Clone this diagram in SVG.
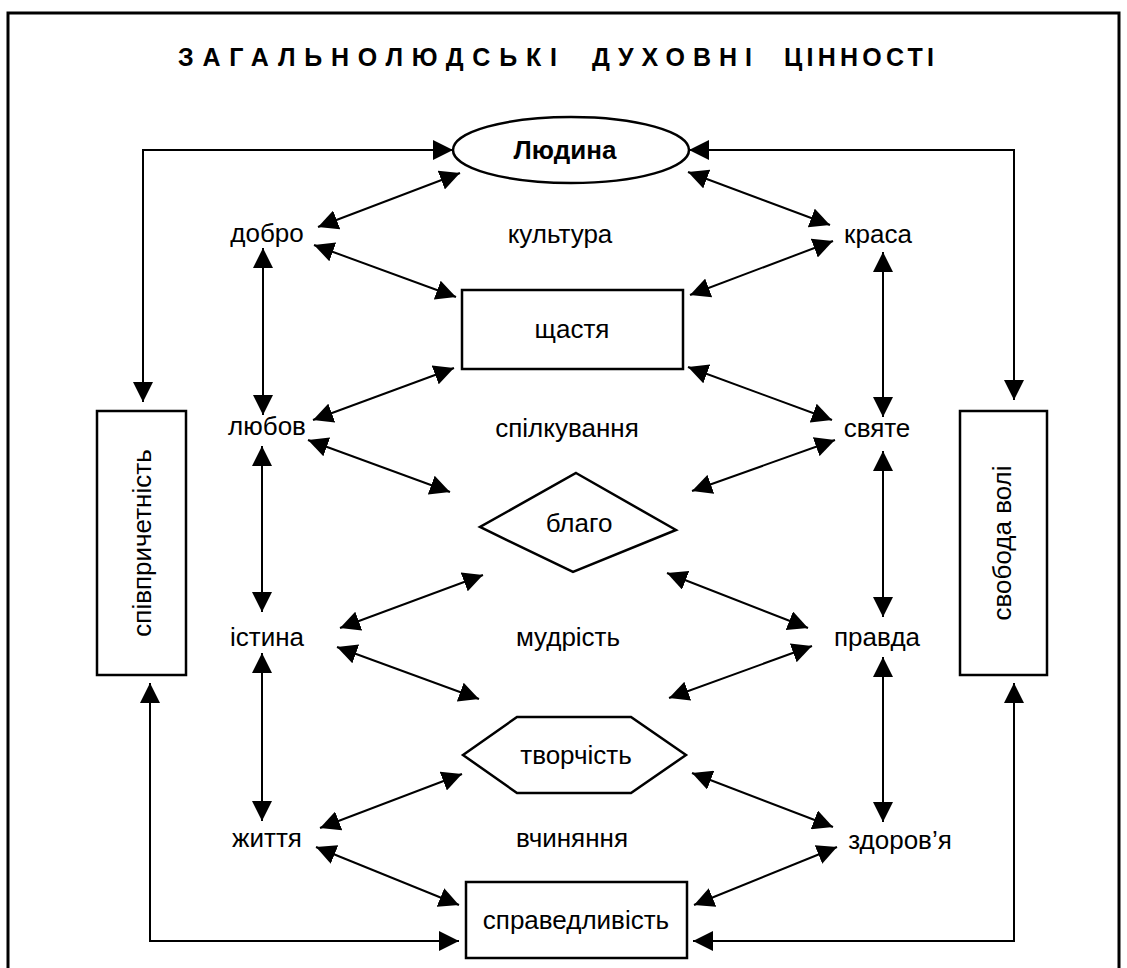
<svg xmlns="http://www.w3.org/2000/svg" width="1127" height="968" viewBox="0 0 1127 968">
<style>
.t{font-family:"Liberation Sans",Arial,sans-serif;font-size:26px;fill:#000;text-anchor:middle}
.b{font-weight:bold}
.ti{font-family:"Liberation Sans",Arial,sans-serif;font-size:25px;font-weight:bold;fill:#000}
.n{fill:#fff;stroke:#000;stroke-width:2.5}
.c{fill:none;stroke:#000;stroke-width:2}
</style>
<defs>
<marker id="ah" viewBox="0 0 20 20" refX="20" refY="10" markerWidth="20" markerHeight="20" markerUnits="userSpaceOnUse" orient="auto-start-reverse">
<path d="M0,0 L20,10 L0,20 z" fill="#000"/>
</marker>
</defs>
<rect width="1127" height="968" fill="#fff"/>
<path d="M8,968 V13 H1119 V968" fill="none" stroke="#000" stroke-width="3"/>
<g id="title">
<text class="ti" x="178" y="66" textLength="379" lengthAdjust="spacing">ЗАГАЛЬНОЛЮДСЬКІ</text>
<text class="ti" x="592" y="66" textLength="160" lengthAdjust="spacing">ДУХОВНІ</text>
<text class="ti" x="784" y="66" textLength="150" lengthAdjust="spacing">ЦІННОСТІ</text>
</g>
<g id="connectors">
<g class="c" marker-start="url(#ah)" marker-end="url(#ah)">
<line x1="318" y1="227" x2="460" y2="173"/>
<line x1="688" y1="172" x2="830" y2="225"/>
<line x1="314" y1="245" x2="456" y2="297"/>
<line x1="833" y1="241" x2="690" y2="295"/>
<line x1="454" y1="368" x2="313" y2="420"/>
<line x1="688" y1="367" x2="832" y2="420"/>
<line x1="308" y1="440" x2="450" y2="492"/>
<line x1="835" y1="440" x2="692" y2="491"/>
<line x1="483" y1="575" x2="340" y2="628"/>
<line x1="667" y1="573" x2="808" y2="628"/>
<line x1="337" y1="647" x2="479" y2="699"/>
<line x1="812" y1="646" x2="669" y2="698"/>
<line x1="462" y1="774" x2="320" y2="828"/>
<line x1="692" y1="773" x2="833" y2="827"/>
<line x1="316" y1="847" x2="459" y2="905"/>
<line x1="837" y1="847" x2="694" y2="905"/>
<line x1="263" y1="248" x2="263" y2="415"/>
<line x1="262" y1="446" x2="262" y2="612"/>
<line x1="262" y1="653" x2="262" y2="821"/>
<line x1="883" y1="252" x2="883" y2="417"/>
<line x1="883" y1="451" x2="883" y2="617"/>
<line x1="883" y1="657" x2="883" y2="822"/>
<polyline points="453,150 143,150 143,402"/>
<polyline points="689,150 1014,150 1014,400"/>
<polyline points="150,683 150,941 459,941"/>
<polyline points="1014,683 1014,941 693,941"/>
</g>
</g>
<g id="n-lyudyna"><ellipse class="n" cx="571" cy="150" rx="118" ry="33"/><text class="t b" x="565" y="159">Людина</text></g>
<g id="n-dobro"><text class="t" x="267" y="242">добро</text></g>
<g id="n-kultura"><text class="t" x="560" y="243">культура</text></g>
<g id="n-krasa"><text class="t" x="878" y="243">краса</text></g>
<g id="n-shchastya"><rect class="n" x="462" y="290" width="221" height="79"/><text class="t" x="572" y="338">щастя</text></g>
<g id="n-lyubov"><text class="t" x="267" y="435">любов</text></g>
<g id="n-spilkuvannya"><text class="t" x="567" y="437">спілкування</text></g>
<g id="n-svyate"><text class="t" x="877" y="437">святе</text></g>
<g id="n-blaho"><polygon class="n" points="576,473 676,530 573,572 480,527"/><text class="t" x="579" y="532">благо</text></g>
<g id="n-istyna"><text class="t" x="267" y="646">істина</text></g>
<g id="n-mudrist"><text class="t" x="568" y="646">мудрість</text></g>
<g id="n-pravda"><text class="t" x="877" y="646">правда</text></g>
<g id="n-tvorchist"><polygon class="n" points="463,755 517,717 631,717 686,755 631,793 517,793"/><text class="t" x="576" y="764">творчість</text></g>
<g id="n-zhyttya"><text class="t" x="267" y="847">життя</text></g>
<g id="n-vchynyannya"><text class="t" x="572" y="847">вчиняння</text></g>
<g id="n-zdorovya"><text class="t" x="900" y="849">здоров’я</text></g>
<g id="n-spravedlyvist"><rect class="n" x="466" y="882" width="221" height="76"/><text class="t" x="576" y="929">справедливість</text></g>
<g id="n-spivprychetnist"><rect class="n" x="97" y="411" width="89" height="264"/><text class="t" transform="translate(151,543) rotate(-90)" x="0" y="0">співпричетність</text></g>
<g id="n-svoboda"><rect class="n" x="960" y="411" width="87" height="264"/><text class="t" transform="translate(1011,543) rotate(-90)" x="0" y="0">свобода волі</text></g>
</svg>
